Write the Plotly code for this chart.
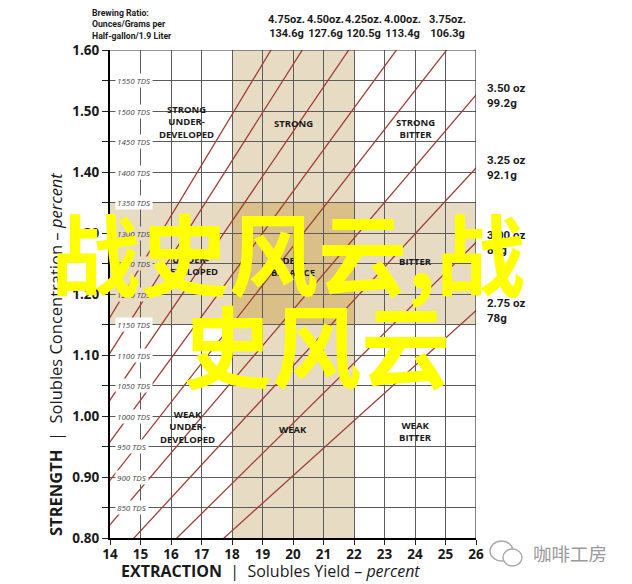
import plotly.graph_objects as go

# ---------------- data ----------------
# brewing-ratio lines: strength (%) per extraction (%) for each dose
dose_oz = ["4.75oz.", "4.50oz.", "4.25oz.", "4.00oz.", "3.75oz.", "3.50 oz", "3.25 oz", "3.00 oz", "2.75 oz"]
dose_g = ["134.6g", "127.6g", "120.5g", "113.4g", "106.3g", "99.2g", "92.1g", "85g", "78g"]
ratio_slope = [0.0830, 0.0788, 0.0733, 0.0684, 0.0639, 0.0587, 0.0541, 0.0494, 0.0451]
# top labels (first five lines) are placed above these extraction values
top_label_x = [19.8, 21.05, 22.3, 23.6, 25.05]

tds_levels = [1550, 1500, 1450, 1400, 1350, 1300, 1250, 1200, 1150, 1100, 1050, 1000, 950, 900, 850]

ideal_ey = [18, 22]          # extraction band
ideal_tds = [1.15, 1.35]     # strength band
x_range = [14, 26]
y_range = [0.80, 1.60]

zone_text = [
    "STRONG<br>UNDER-<br>DEVELOPED", "STRONG", "STRONG<br>BITTER",
    "UNDER-<br>DEVELOPED", "IDEAL<br>BALANCE", "BITTER",
    "WEAK<br>UNDER-<br>DEVELOPED", "WEAK", "WEAK<br>BITTER",
]
zone_x = [16.5, 20.0, 24.0, 16.65, 20.0, 24.0, 16.55, 20.0, 24.0]
zone_y = [1.482, 1.48, 1.471, 1.246, 1.245, 1.254, 0.982, 0.978, 0.974]

overlay_line1 = "战史风云,战"
overlay_line2 = "史风云"
watermark = "咖啡工房"

# ---------------- styles ----------------
TAN = "#e8dbc3"
TAN_DARK = "#dac088"
LINE_RED = "#9e3f37"
GRID = "#5c5c5c"
FONT = "Open Sans"
NARROW = "Liberation Sans Narrow, Roboto"

W, H = 632, 584
L, R, T, B = 110, 156, 50, 46
PW, PH = W - L - R, H - T - B


def px(xp):
    return (xp - L) / PW


def py(yp):
    return 1 - (yp - T) / PH


fig = go.Figure()

for k in ratio_slope:
    fig.add_trace(go.Scatter(
        x=[0, 30], y=[0, 30 * k], mode="lines",
        line=dict(color=LINE_RED, width=1.3),
        hoverinfo="skip", showlegend=False))

shapes = [
    dict(type="rect", xref="x", yref="y", x0=ideal_ey[0], x1=ideal_ey[1], y0=y_range[0], y1=y_range[1],
         fillcolor=TAN, line=dict(width=0), layer="below"),
    dict(type="rect", xref="x", yref="y", x0=x_range[0], x1=x_range[1], y0=ideal_tds[0], y1=ideal_tds[1],
         fillcolor=TAN, line=dict(width=0), layer="below"),
    dict(type="rect", xref="x", yref="y", x0=ideal_ey[0], x1=ideal_ey[1], y0=ideal_tds[0], y1=ideal_tds[1],
         fillcolor=TAN_DARK, line=dict(width=0), layer="below"),
    dict(type="line", xref="x", yref="y", x0=x_range[0], x1=x_range[1], y0=y_range[1], y1=y_range[1],
         line=dict(color="#333", width=1.2)),
    dict(type="line", xref="x", yref="y", x0=x_range[1], x1=x_range[1], y0=y_range[0], y1=y_range[1],
         line=dict(color="#333", width=1.2)),
    # watermark icon (two speech bubbles)
    dict(type="circle", xref="paper", yref="paper",
         x0=px(490), x1=px(513), y0=py(561), y1=py(541),
         line=dict(color="#a8a8a8", width=1.4)),
    dict(type="circle", xref="paper", yref="paper",
         x0=px(503), x1=px(522), y0=py(566), y1=py(549),
         line=dict(color="#a8a8a8", width=1.4), fillcolor="white"),
]

ann = []
# TDS labels inside the left column
for lv in tds_levels:
    yv = lv / 1000
    inside = ideal_tds[0] < yv < ideal_tds[1]
    ann.append(dict(x=x_range[0] + 0.17, y=yv, xref="x", yref="y", xanchor="left", yanchor="middle",
                    text=f"<i>{lv} TDS</i>", showarrow=False, bgcolor=TAN if inside else "white",
                    borderpad=1, font=dict(family=FONT, size=8, color="#444")))

# zone labels
for t, xv, yv in zip(zone_text, zone_x, zone_y):
    ann.append(dict(x=xv, y=yv, xref="x", yref="y", xanchor="center", yanchor="middle",
                    text=t, showarrow=False,
                    font=dict(family=FONT, size=9.5, color="#1a1a1a", weight="bold")))

# top labels of ratio lines
for i, xv in enumerate(top_label_x):
    ann.append(dict(x=xv, y=py(27), xref="x", yref="paper", xanchor="center", yanchor="middle",
                    text=f"{dose_oz[i]}<br>{dose_g[i]}", showarrow=False,
                    font=dict(family=NARROW, size=11, color="#1a1a1a", weight="bold")))
# right labels
for i in range(len(top_label_x), len(dose_oz)):
    ann.append(dict(x=x_range[1], y=x_range[1] * ratio_slope[i], xref="x", yref="y",
                    xanchor="left", yanchor="middle", xshift=9, align="left",
                    text=f"{dose_oz[i]}<br>{dose_g[i]}", showarrow=False,
                    font=dict(family=NARROW, size=11.5, color="#1a1a1a", weight="bold")))

# header block
ann.append(dict(x=px(90), y=py(24), xref="paper", yref="paper", xanchor="left",
                yanchor="middle", align="left", showarrow=False,
                text="Brewing Ratio:<br>Ounces/Grams per<br>Half-gallon/1.9 Liter",
                font=dict(family=NARROW, size=8.7, color="#1a1a1a", weight="bold")))

# axis titles
ann.append(dict(x=px(55), y=py(355), xref="paper", yref="paper", xanchor="center", yanchor="middle",
                textangle=-90, showarrow=False,
                text="<b>STRENGTH</b>  |  Solubles Concentration – <i>percent</i>",
                font=dict(family=FONT, size=16.5, color="#1a1a1a")))
ann.append(dict(x=px(270), y=py(571), xref="paper", yref="paper", xanchor="center", yanchor="middle",
                showarrow=False,
                text="<b>EXTRACTION</b>  |  Solubles Yield – <i>percent</i>",
                font=dict(family=FONT, size=16, color="#1a1a1a")))

# watermark
ann.append(dict(x=px(570), y=py(553), xref="paper", yref="paper", xanchor="center", yanchor="middle",
                showarrow=False, text=watermark,
                font=dict(family="Noto Sans CJK SC", size=18.5, color="#9a9a9a")))

# yellow overlay text
ann.append(dict(x=px(288), y=py(250), xref="paper", yref="paper", xanchor="center", yanchor="middle",
                showarrow=False, text=overlay_line1,
                font=dict(family="Noto Sans CJK SC", size=89, color="#ffff00", weight="bold")))
ann.append(dict(x=px(316), y=py(342), xref="paper", yref="paper", xanchor="center", yanchor="middle",
                showarrow=False, text=overlay_line2,
                font=dict(family="Noto Sans CJK SC", size=89, color="#ffff00", weight="bold")))

fig.update_layout(
    width=W, height=H,
    margin=dict(l=L, r=R, t=T, b=B),
    paper_bgcolor="white", plot_bgcolor="white",
    shapes=shapes, annotations=ann, showlegend=False,
    xaxis=dict(range=x_range, dtick=1, tick0=14, showgrid=True, gridcolor=GRID, gridwidth=1,
               showline=True, linecolor="black", linewidth=2, zeroline=False,
               ticks="outside", ticklen=5, tickcolor="#222", ticklabelstandoff=-2,
               tickfont=dict(family=FONT, size=13.5, color="#1a1a1a", weight="bold")),
    yaxis=dict(range=y_range, dtick=0.1, tick0=0.8, tickformat=".2f", showgrid=True, gridcolor=GRID,
               gridwidth=1, showline=True, linecolor="black", linewidth=2, zeroline=False,
               ticks="outside", ticklen=6, tickcolor="#222",
               tickfont=dict(family=FONT, size=13.5, color="#1a1a1a", weight="bold"),
               minor=dict(dtick=0.05, showgrid=True, gridcolor=GRID, gridwidth=1,
                          ticks="outside", ticklen=6, tickcolor="#222")),
)

fig.write_html("out.html", config={"displayModeBar": False},
               post_script="document.body.style.margin='0';document.body.style.padding='0';")
